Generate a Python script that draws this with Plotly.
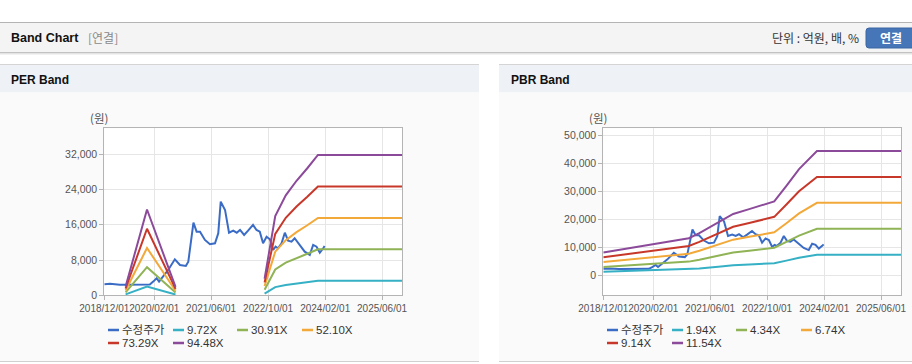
import plotly.graph_objects as go

W, H = 912, 364


def px(x):
    return x / W


def py(y):
    return 1 - y / H


# ---------------- data ----------------
price_name = "수정주가"
price_dates = ["2018-12-01", "2019-01-19", "2019-04-13", "2019-08-20", "2019-12-25",
               "2020-01-23", "2020-02-21", "2020-03-13", "2020-04-17", "2020-05-30",
               "2020-07-26", "2020-09-08", "2020-10-28", "2020-11-18", "2021-01-01",
               "2021-01-28", "2021-02-26", "2021-04-09", "2021-05-22", "2021-07-04",
               "2021-08-01", "2021-08-22", "2021-09-28", "2021-11-01", "2021-12-07",
               "2022-01-06", "2022-02-03", "2022-03-10", "2022-04-13", "2022-05-25",
               "2022-06-24", "2022-07-22", "2022-08-19", "2022-09-18", "2022-10-16",
               "2022-11-13", "2022-12-04", "2022-12-25", "2023-01-24", "2023-02-21",
               "2023-03-21", "2023-04-19", "2023-05-16", "2023-06-28", "2023-08-10",
               "2023-09-22", "2023-10-21", "2023-11-19", "2023-12-17", "2024-01-15",
               "2024-01-27"]
price_values = [2500, 2600, 2400, 2400, 2450,
                3100, 3860, 3100, 4200, 5740,
                8170, 6880, 6650, 7630, 16480,
                14440, 14440, 12550, 11570, 11800,
                14070, 21250, 19360, 14200, 14660,
                14200, 14820, 13690, 14660, 15960,
                14820, 14440, 11800, 13300, 12710,
                10280, 11030, 10670, 11800, 14200,
                12390, 12170, 12940, 11420, 9900,
                9150, 11420, 11030, 9670, 10670,
                11190]

per_names = ["9.72X", "30.91X", "52.10X", "73.29X", "94.48X"]
per_dates = ["2019-06-01", "2019-12-01", "2020-08-01", "2021-08-01", "2022-09-01",
             "2022-12-01", "2023-03-01", "2023-06-01", "2023-09-01", "2023-12-01",
             "2025-11-21"]
per_972 = [200, 2000, 190, None, 390, 1850, 2330, 2670, 2960, 3280, 3280]
per_3091 = [650, 6370, 620, None, 1240, 5870, 7420, 8500, 9430, 10420, 10420]
per_5210 = [1090, 10730, 1040, None, 2080, 9900, 12500, 14330, 15890, 17560, 17560]
per_7329 = [1540, 15100, 1470, None, 2930, 13930, 17590, 20150, 22350, 24700, 24700]
per_9448 = [1980, 19460, 1890, None, 3780, 17950, 22680, 25980, 28820, 31840, 31840]

pbr_names = ["1.94X", "4.34X", "6.74X", "9.14X", "11.54X"]
pbr_dates = ["2018-12-01", "2020-02-01", "2020-12-01", "2021-03-01", "2021-09-01",
             "2021-12-15", "2022-05-01", "2022-12-01", "2023-03-15", "2023-07-01",
             "2023-12-01", "2025-11-21"]
pbr_194 = [1400, 1920, 2250, 2560, 3260, 3710, 4000, 4460, 5390, 6400, 7490, 7490]
pbr_434 = [3120, 4300, 5030, 5730, 7290, 8290, 8940, 9980, 12070, 14320, 16750, 16750]
pbr_674 = [4850, 6670, 7820, 8900, 11320, 12870, 13880, 15500, 18740, 22240, 26020, 26020]
pbr_914 = [6580, 9050, 10600, 12070, 15360, 17460, 18830, 21020, 25410, 30160, 35280, 35280]
pbr_1154 = [8310, 11420, 13390, 15230, 19390, 22040, 23770, 26540, 32080, 38080, 44540, 44540]

x_tickvals = ["2018-12-01", "2020-02-01", "2021-06-01", "2022-10-01", "2024-02-01", "2025-06-01"]
x_ticktext = ["2018/12/01", "2020/02/01", "2021/06/01", "2022/10/01", "2024/02/01", "2025/06/01"]
per_yticks = [0, 8000, 16000, 24000, 32000]
pbr_yticks = [0, 10000, 20000, 30000, 40000, 50000]

# ---------------- style ----------------
C_PRICE = "#3a6cc6"
BAND_COLORS = ["#35b0c4", "#8fb355", "#f2a93a", "#c8382a", "#8c4a9a"]
KFONT = "Noto Sans CJK KR, Malgun Gothic, sans-serif"
NFONT = "Liberation Sans, Arial, Noto Sans CJK KR, sans-serif"
GRID = "#e6e6e6"
AXLINE = "#b4b4b4"

fig = go.Figure()

# PER chart
fig.add_trace(go.Scatter(x=price_dates, y=price_values, mode="lines", name=price_name,
                         line=dict(color=C_PRICE, width=2), xaxis="x", yaxis="y"))
for nm, vals, col in zip(per_names, [per_972, per_3091, per_5210, per_7329, per_9448], BAND_COLORS):
    fig.add_trace(go.Scatter(x=per_dates, y=vals, mode="lines", name=nm,
                             line=dict(color=col, width=2), xaxis="x", yaxis="y"))

# PBR chart
fig.add_trace(go.Scatter(x=price_dates, y=price_values, mode="lines", name=price_name,
                         line=dict(color=C_PRICE, width=2), xaxis="x2", yaxis="y2"))
for nm, vals, col in zip(pbr_names, [pbr_194, pbr_434, pbr_674, pbr_914, pbr_1154], BAND_COLORS):
    fig.add_trace(go.Scatter(x=pbr_dates, y=vals, mode="lines", name=nm,
                             line=dict(color=col, width=2), xaxis="x2", yaxis="y2"))

xtickfont = dict(family=NFONT, size=10, color="#555555")
ytickfont = dict(family=NFONT, size=10.5, color="#555555")
xcommon = dict(type="date", range=["2018-12-01", "2025-11-21"], tickmode="array",
               tickvals=x_tickvals, ticktext=x_ticktext, tickangle=0, showgrid=True, gridcolor=GRID,
               showline=True, mirror=True, linecolor=AXLINE, ticks="outside", ticklen=4,
               tickcolor=AXLINE, tickfont=xtickfont, zeroline=False, fixedrange=True,
               automargin=False)
ycommon = dict(tickmode="array", tickformat=",", showgrid=True, gridcolor=GRID,
               showline=True, mirror=True, linecolor=AXLINE, ticks="outside", ticklen=4,
               tickcolor=AXLINE, tickfont=ytickfont, zeroline=False, fixedrange=True,
               automargin=False)

fig.update_layout(
    width=W, height=H, autosize=False,
    margin=dict(l=0, r=0, t=0, b=0, pad=0, autoexpand=False),
    paper_bgcolor="white", plot_bgcolor="rgba(0,0,0,0)",
    showlegend=False,
    xaxis=dict(xcommon, domain=[px(104.3), px(402.3)], anchor="y"),
    yaxis=dict(ycommon, domain=[py(295.3), py(128.3)], anchor="x",
               range=[0, 37880], tickvals=per_yticks),
    xaxis2=dict(xcommon, domain=[px(603.3), px(901.3)], anchor="y2"),
    yaxis2=dict(ycommon, domain=[py(295.3), py(128.3)], anchor="x2",
                range=[-7000, 52640], tickvals=pbr_yticks),
)

shapes = []


def rect(x0, y0, x1, y1, fill, layer="below"):
    shapes.append(dict(type="rect", xref="paper", yref="paper", x0=px(x0), x1=px(x1),
                       y0=py(y1), y1=py(y0), fillcolor=fill, line=dict(width=0), layer=layer))


def hline(x0, x1, y, color, width=1, layer="below"):
    shapes.append(dict(type="line", xref="paper", yref="paper", x0=px(x0), x1=px(x1),
                       y0=py(y), y1=py(y), line=dict(color=color, width=width), layer=layer))


# header bar
hline(0, 912, 22.5, "#b4b4b4")
rect(0, 23, 912, 52, "#f4f4f4")
hline(0, 912, 52.5, "#c2c2c2")
hline(0, 912, 53.5, "#e4e4e4")
hline(0, 912, 54.5, "#f2f2f2")

# panels
for x0, x1 in [(0, 479), (499, 912)]:
    hline(x0, x1, 64.5, "#d4d4d4")
    rect(x0, 65, x1, 92.5, "#eef1f6")
    rect(x0, 92.5, x1, 361, "#fafafa")
    hline(x0, x1, 361.5, "#d0d0d0")

# plot areas
rect(104.3, 128.3, 402.3, 295.3, "#ffffff")
rect(603.3, 128.3, 901.3, 295.3, "#ffffff")

# button
bx0, bx1, by0, by1, r = 866, 914, 28, 48, 3
path = (f"M {px(bx0 + r)},{py(by0)} L {px(bx1)},{py(by0)} L {px(bx1)},{py(by1)} "
        f"L {px(bx0 + r)},{py(by1)} Q {px(bx0)},{py(by1)} {px(bx0)},{py(by1 - r)} "
        f"L {px(bx0)},{py(by0 + r)} Q {px(bx0)},{py(by0)} {px(bx0 + r)},{py(by0)} Z")
shapes.append(dict(type="path", xref="paper", yref="paper", path=path,
                   fillcolor="#4676b7", line=dict(color="#3a66a3", width=1), layer="above"))

annotations = []


def text(x, y, s, size, color="#000000", family=KFONT, anchor="left", bold=False):
    annotations.append(dict(xref="paper", yref="paper", x=px(x), y=py(y), text=s,
                            showarrow=False, xanchor=anchor, yanchor="middle", borderpad=0,
                            font=dict(family=family, size=size, color=color,
                                      weight="bold" if bold else "normal")))


text(10, 38, "Band Chart", 12.5, "#111111", family=NFONT, bold=True)
text(87, 38, "[연결]", 12, "#8a8a8a")
text(860, 38, "단위 : 억원, 배, %", 12, "#333333", anchor="right")
text(891, 38, "연결", 12, "#ffffff", anchor="center", bold=True)

text(10, 80, "PER Band", 12, "#111111", family=NFONT, bold=True)
text(510, 80, "PBR Band", 12, "#111111", family=NFONT, bold=True)

text(99, 118, "(원)", 11.5, "#555555", anchor="center")
text(598, 118, "(원)", 11.5, "#555555", anchor="center")

# legends
legend_names_per = [price_name] + per_names
legend_names_pbr = [price_name] + pbr_names
legend_colors = [C_PRICE] + BAND_COLORS
slots = [(108, 330), (173, 330), (237, 330), (302, 330), (108, 343), (173, 343)]
for off, names in [(0, legend_names_per), (499, legend_names_pbr)]:
    for (sx, sy), nm, col in zip(slots, names, legend_colors):
        hline(sx + off, sx + off + 11, sy, col, width=2.5, layer="above")
        text(sx + off + 12.5, sy, nm, 11.5, "#333333", family=NFONT)

fig.update_layout(shapes=shapes, annotations=annotations)

fig.write_html("out.html", config={"responsive": False, "displayModeBar": False},
               post_script="document.body.style.margin='0px';"
                           "document.documentElement.style.overflow='hidden';"
                           "document.body.style.overflow='hidden';")
